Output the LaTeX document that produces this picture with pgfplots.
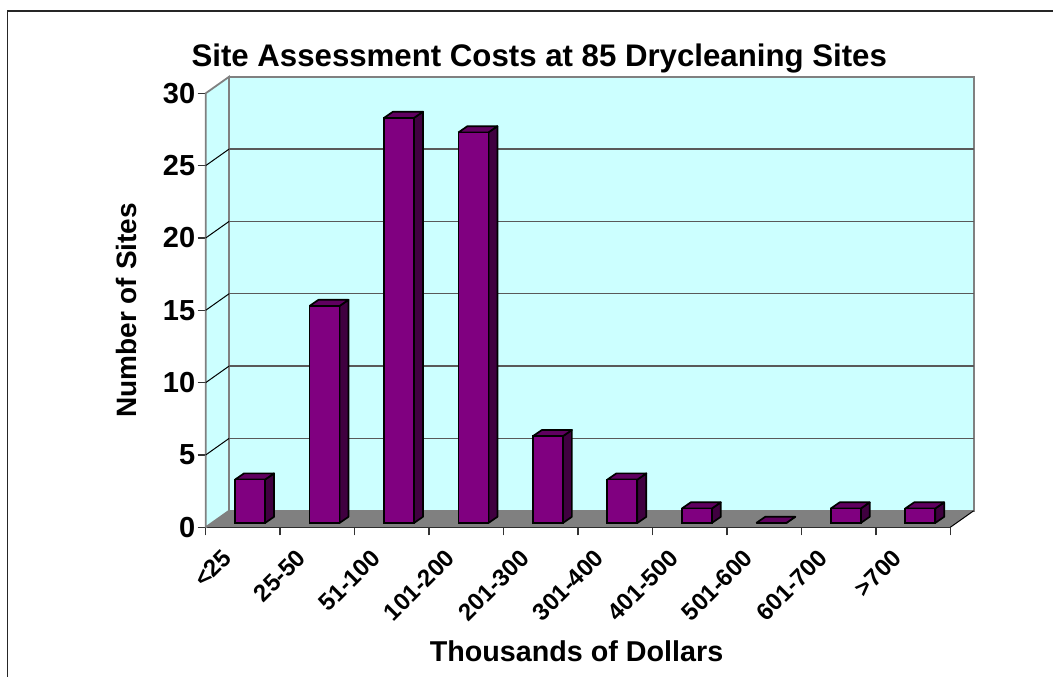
\documentclass[border=0pt]{standalone}
\usepackage{fontspec}
\setmainfont{Liberation Sans}
\usepackage{pgfplots}
\usepackage{pgfplotstable}
\pgfplotsset{compat=1.18}
\definecolor{wall}{HTML}{CCFFFF}
\definecolor{floorgray}{HTML}{808080}
\definecolor{barfront}{HTML}{800080}
\definecolor{bartop}{HTML}{600060}
\definecolor{barside}{HTML}{400040}

\pgfplotstableread{
pos n
0.5 3
1.5 15
2.5 28
3.5 27
4.5 6
5.5 3
6.5 1
7.5 0
8.5 1
9.5 1
}\sitecounts

% side and top face of one bar; 1 x unit = 74.46px, 1 y unit = 14.47px
\newcommand\barfaces[2]{%
  \pgfmathsetmacro\xl{#1+0.5-0.2015}
  \pgfmathsetmacro\xr{#1+0.5+0.2015}
  \pgfmathsetmacro\xlb{\xl+0.1209}
  \pgfmathsetmacro\xrb{\xr+0.1209}
  \pgfmathsetmacro\yb{#2+0.4285}
  \addplot[fill=barside,draw=black,line width=1.7pt,line join=round,xshift=7.1pt,yshift=4.3pt]
    coordinates {(\xr,0) (\xrb,0.4285) (\xrb,\yb) (\xr,#2) (\xr,0)};
  \addplot[fill=bartop,draw=black,line width=1.7pt,line join=round,xshift=7.1pt,yshift=4.3pt]
    coordinates {(\xl,#2) (\xr,#2) (\xrb,\yb) (\xlb,\yb) (\xl,#2)};
}

\begin{document}
\begin{tikzpicture}
\path[use as bounding box] (0,0) rectangle (1053pt,677pt);
\begin{axis}[
  at={(205.7pt,149.7pt)},
  anchor=south west,
  scale only axis,
  width=744.6pt,
  height=434pt,
  xmin=0, xmax=10,
  ymin=0, ymax=30,
  clip=false,
  axis x line=bottom,
  axis y line=left,
  x axis line style={-,black,line width=1.6pt},
  y axis line style={-,gray,line width=1.8pt},
  tick align=outside,
  major tick length=8pt,
  tick style={black!80,line width=1.4pt},
  xtick={0,1,...,10},
  ytick={0,5,...,30},
  x tick label as interval,
  xticklabels={{<25},{25-50},{51-100},{101-200},{201-300},{301-400},{401-500},{501-600},{601-700},{>700}},
  xticklabel style={font=\fontsize{24}{24}\selectfont\bfseries,rotate=45,anchor=north east,xshift=-21pt,yshift=10pt},
  yticklabel style={font=\fontsize{29}{29}\selectfont\bfseries,/pgf/number format/assume math mode=true,xshift=1pt},
  unbounded coords=jump,
  title={Site Assessment Costs at 85 Drycleaning Sites},
  title style={font=\fontsize{31.2}{31.2}\selectfont\bfseries,at={(axis description cs:0.448,1.0652)},anchor=center},
  xlabel={Thousands of Dollars},
  xlabel style={font=\fontsize{28.7}{28.7}\selectfont\bfseries,at={(axis description cs:0.498,-0.285)},anchor=center},
  ylabel={Number of Sites},
  ylabel style={font=\fontsize{28}{28}\selectfont\bfseries,at={(axis description cs:-0.107,0.5)},anchor=center,rotate=0},
]
% back wall and side wall
\addplot[fill=wall,draw=gray,line width=1.8pt]
  coordinates {(0.313,1.14) (10.313,1.14) (10.313,31.14) (0.313,31.14) (0.313,1.14)};
\addplot[fill=wall,draw=gray,line width=1.8pt]
  coordinates {(0,0) (0.313,1.14) (0.313,31.14) (0,30) (0,0)};
% floor
\addplot[fill=floorgray,draw=none]
  coordinates {(0,0) (10,0) (10.313,1.14) (0.313,1.14) (0,0)};
\addplot[draw=black,line width=1pt] coordinates {(10,0) (10.313,1.14)};
% gridlines, over the walls
\addplot[draw=black,line width=1pt] coordinates {
  (0,5) (0.313,6.14) (nan,nan)
  (0,10) (0.313,11.14) (nan,nan)
  (0,15) (0.313,16.14) (nan,nan)
  (0,20) (0.313,21.14) (nan,nan)
  (0,25) (0.313,26.14)
};
\addplot[draw=black!65,line width=1.3pt] coordinates {
  (0.313,6.14) (10.313,6.14) (nan,nan)
  (0.313,11.14) (10.313,11.14) (nan,nan)
  (0.313,16.14) (10.313,16.14) (nan,nan)
  (0.313,21.14) (10.313,21.14) (nan,nan)
  (0.313,26.14) (10.313,26.14)
};
% bars
\pgfplotsinvokeforeach{0,...,9}{
  \pgfplotstablegetelem{#1}{n}\of\sitecounts
  \edef\thisn{\pgfplotsretval}
  \barfaces{#1}{\thisn}
}
\addplot[ybar,bar width=30pt,bar shift=0pt,fill=barfront,draw=black,line width=1.7pt,xshift=7.1pt,yshift=4.3pt]
  table[x=pos,y=n] {\sitecounts};
\end{axis}
\draw[black!85,line width=1.8pt] (7.5pt,-2pt) -- (7.5pt,666pt) -- (1055pt,666pt);
\end{tikzpicture}
\end{document}
